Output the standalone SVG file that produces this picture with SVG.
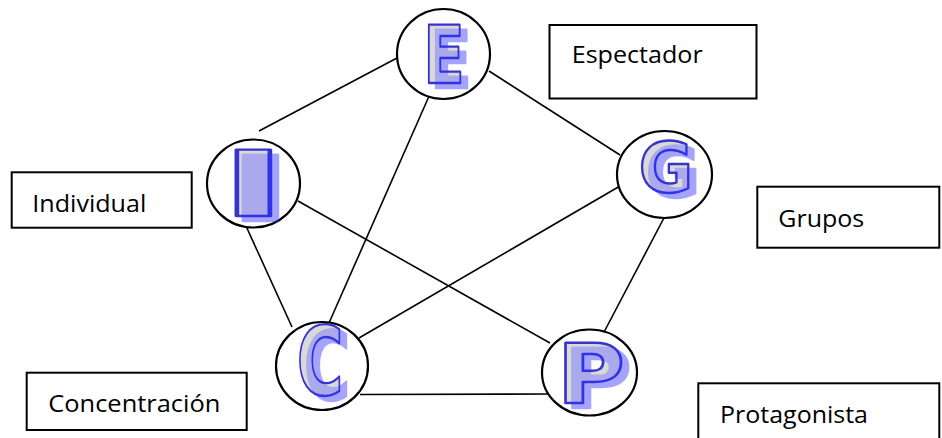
<svg xmlns="http://www.w3.org/2000/svg" width="942" height="438" viewBox="0 0 942 438">
<style>
.bg{fill:#ffffff}
.ln{stroke:#000;stroke-width:1.6;fill:none}
.cir{fill:#fff;stroke:#000;stroke-width:2.2}
.box{fill:#fff;stroke:#000;stroke-width:2}
.lbl{font-family:"Open Sans","Liberation Sans",sans-serif;font-size:23px;fill:#000}
.lt{font-family:"DejaVu Sans","Liberation Sans",sans-serif;font-weight:bold;text-anchor:middle;fill:#d9d9d9;stroke:#3535cc;stroke-width:2.4;stroke-linejoin:round}
</style>
<defs>
<filter id="wa" x="-40%" y="-30%" width="180%" height="160%">
<feOffset in="SourceAlpha" dx="7" dy="5" result="o"/>
<feFlood flood-color="#3333ff" flood-opacity="0.45"/>
<feComposite in2="o" operator="in" result="s"/>
<feMerge><feMergeNode in="SourceGraphic"/><feMergeNode in="s"/></feMerge>
</filter>
</defs>
<rect class="bg" x="0" y="0" width="942" height="438"/>
<g id="connectors">
<line class="ln" x1="397" y1="58" x2="259" y2="131"/>
<line class="ln" x1="489" y1="71" x2="620" y2="155"/>
<line class="ln" x1="430" y1="94" x2="329" y2="323"/>
<line class="ln" x1="246" y1="226" x2="292" y2="327"/>
<line class="ln" x1="620" y1="186" x2="359" y2="338"/>
<line class="ln" x1="298" y1="201" x2="550" y2="343"/>
<line class="ln" x1="665" y1="216" x2="603" y2="334"/>
<line class="ln" x1="360" y1="394.5" x2="548" y2="394"/>
</g>
<g id="node-E">
<ellipse class="cir" cx="443.5" cy="54" rx="46.5" ry="45"/>
<g filter="url(#wa)"><text class="lt" font-size="80" transform="translate(444,83) scale(0.76,1)">E</text></g>
</g>
<g id="node-I">
<ellipse class="cir" cx="253.5" cy="183.5" rx="46.5" ry="44"/>
<g filter="url(#wa)"><text class="lt" font-size="90" transform="translate(253.5,216) scale(1.95,1)">I</text></g>
</g>
<g id="node-G">
<ellipse class="cir" cx="664.5" cy="174.5" rx="47.5" ry="43.5"/>
<g filter="url(#wa)"><text class="lt" font-size="69" transform="translate(666,192) scale(0.96,1)">G</text></g>
</g>
<g id="node-C">
<ellipse class="cir" cx="322" cy="366" rx="46" ry="44"/>
<g filter="url(#wa)"><text class="lt" font-size="95" transform="translate(320,395) scale(0.67,1)">C</text></g>
</g>
<g id="node-P">
<ellipse class="cir" cx="589.5" cy="372.5" rx="47.5" ry="43"/>
<g filter="url(#wa)"><text class="lt" font-size="82" transform="translate(591,402.7) scale(1.13,1)">P</text></g>
</g>
<g id="label-espectador">
<rect class="box" x="549.5" y="25" width="207" height="73.5"/>
<text class="lbl" x="571.7" y="63" textLength="131" lengthAdjust="spacingAndGlyphs">Espectador</text>
</g>
<g id="label-individual">
<rect class="box" x="11.7" y="172.3" width="180" height="55.4"/>
<text class="lbl" x="32.3" y="211.7" textLength="114" lengthAdjust="spacingAndGlyphs">Individual</text>
</g>
<g id="label-grupos">
<rect class="box" x="757.3" y="186.7" width="182" height="61"/>
<text class="lbl" x="778.3" y="226.7" textLength="86" lengthAdjust="spacingAndGlyphs">Grupos</text>
</g>
<g id="label-concentracion">
<rect class="box" x="26.7" y="372.7" width="220" height="57.3"/>
<text class="lbl" x="48.3" y="411.7" textLength="172" lengthAdjust="spacingAndGlyphs">Concentración</text>
</g>
<g id="label-protagonista">
<rect class="box" x="698.3" y="383.3" width="241" height="70"/>
<text class="lbl" x="720" y="423.3" textLength="148" lengthAdjust="spacingAndGlyphs">Protagonista</text>
</g>
</svg>
